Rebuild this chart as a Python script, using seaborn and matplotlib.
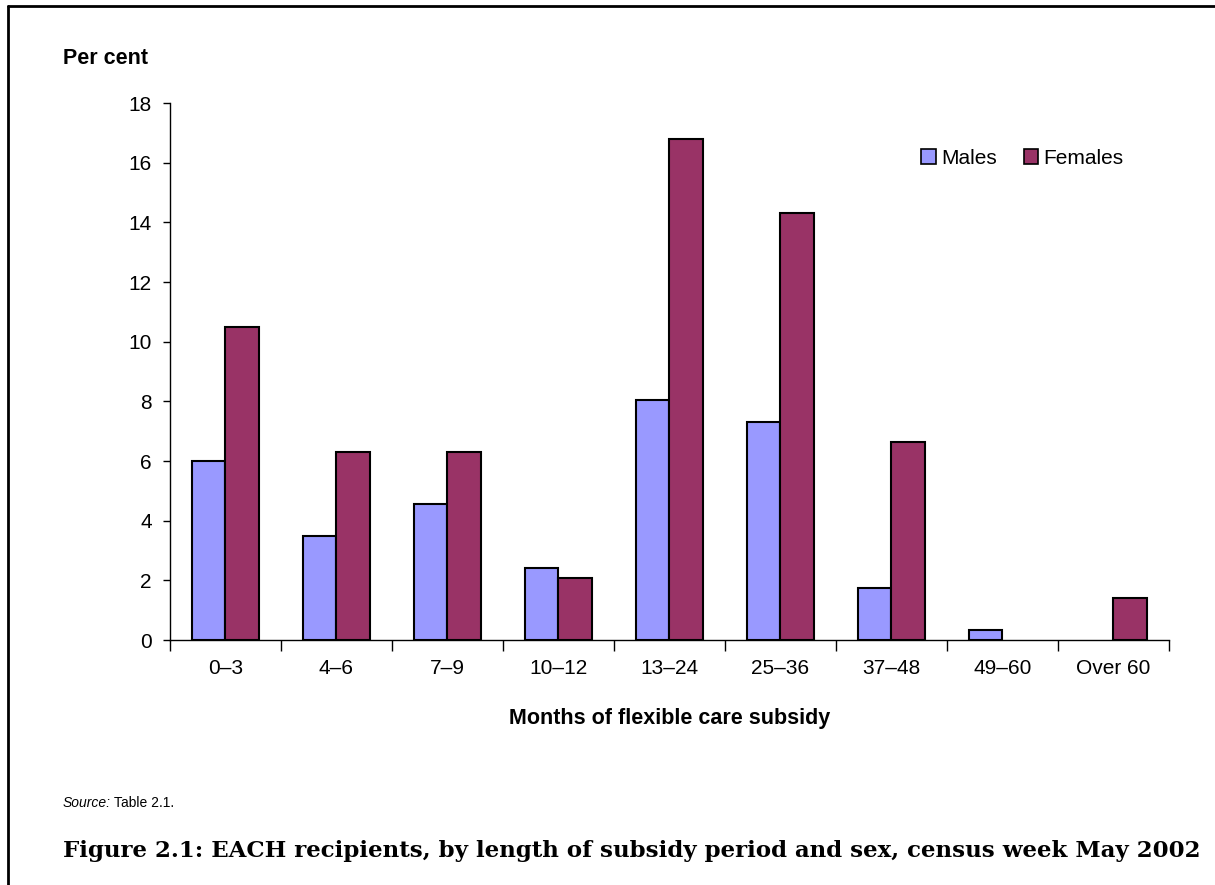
import matplotlib
matplotlib.use("Agg")
import matplotlib.pyplot as plt
import seaborn as sns
import pandas as pd
from matplotlib.lines import Line2D
from matplotlib.patches import Patch

categories = ["0\u20133", "4\u20136", "7\u20139", "10\u201312", "13\u201324", "25\u201336", "37\u201348", "49\u201360", "Over 60"]
males = [6.0, 3.5, 4.55, 2.4, 8.05, 7.3, 1.75, 0.35, 0.0]
females = [10.5, 6.3, 6.3, 2.08, 16.8, 14.3, 6.65, 0.0, 1.4]
series = ["Males", "Females"]
colors = {"Males": "#9999FF", "Females": "#993366"}
yticks = [0, 2, 4, 6, 8, 10, 12, 14, 16, 18]

df = pd.DataFrame({
    "Months": categories * 2,
    "Value": males + females,
    "Sex": ["Males"] * len(categories) + ["Females"] * len(categories),
})

sns.set_theme(style="white")
plt.rcParams["font.family"] = ["Liberation Sans", "DejaVu Sans"]
plt.rcParams["text.color"] = "black"
plt.rcParams["axes.labelcolor"] = "black"
plt.rcParams["xtick.color"] = "black"
plt.rcParams["ytick.color"] = "black"

fig = plt.figure(figsize=(12.15, 8.85), dpi=100)
ax = fig.add_axes([0.1399, 0.2768, 0.8222, 0.6068])

sns.barplot(data=df, x="Months", y="Value", hue="Sex", order=categories,
            hue_order=series, palette=colors, width=0.6, ax=ax,
            edgecolor="black", linewidth=1.5, legend=False, saturation=1)

# zero-height bars are not drawn in the reference
for p in ax.patches:
    if p.get_height() == 0:
        p.set_visible(False)

ax.set_ylim(0, 18)
ax.set_xlim(-0.5, len(categories) - 0.5)
ax.set_yticks(yticks)
ax.set_yticklabels([str(t) for t in yticks], fontsize=15, color="black")
ax.set_xticks(range(len(categories)))
ax.set_xticklabels(categories, fontsize=15, color="black")
ax.tick_params(axis="x", length=0, pad=14)
ax.tick_params(axis="y", length=5, width=1, color="black", direction="out", left=True, pad=8)
ax.set_xticks([i - 0.5 for i in range(len(categories) + 1)], minor=True)
ax.tick_params(axis="x", which="minor", length=8, width=1, color="black", direction="out", bottom=True)

for s in ["top", "right"]:
    ax.spines[s].set_visible(False)
for s in ["left", "bottom"]:
    ax.spines[s].set_color("black")
    ax.spines[s].set_linewidth(1)

ax.set_xlabel("Months of flexible care subsidy", fontsize=15.5, fontweight="bold", labelpad=21, color="black")
ax.set_ylabel("")

handles = [Patch(facecolor=colors[s], edgecolor="black", linewidth=1.2) for s in series]
ax.legend(handles, series, loc="center left", bbox_to_anchor=(0.733, 0.897), ncol=2,
          frameon=False, fontsize=15, handlelength=0.7, handleheight=0.7,
          handletextpad=0.25, columnspacing=1.3, labelcolor="black")

fig.text(63 / 1215, 1 - 58 / 885, "Per cent", fontsize=15.5, fontweight="bold", va="center", ha="left", color="black")
fig.text(63 / 1215, 1 - 803 / 885, "Source:", fontsize=10, style="italic", va="center", ha="left", color="black")
fig.text(114 / 1215, 1 - 803 / 885, "Table 2.1.", fontsize=10, va="center", ha="left", color="black")
fig.text(63 / 1215, 1 - 851 / 885,
         "Figure 2.1: EACH recipients, by length of subsidy period and sex, census week May 2002",
         fontsize=16.5, fontweight="bold", family=["DejaVu Serif"],
         va="center", ha="left", color="black")

fig.add_artist(Line2D([8 / 1215, 1.0], [1 - 6 / 885, 1 - 6 / 885], color="black", linewidth=2, transform=fig.transFigure))
fig.add_artist(Line2D([8 / 1215, 8 / 1215], [0, 1 - 6 / 885], color="black", linewidth=2, transform=fig.transFigure))

fig.savefig("out.png", dpi=100)
